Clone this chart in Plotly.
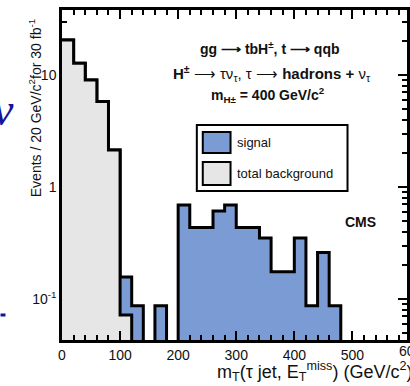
import plotly.graph_objects as go

# Histogram binning: 20 GeV/c^2 bins from 0 to 600
bin_width = 20
n_bins = 30
bin_edges = [i * bin_width for i in range(n_bins + 1)]

# Expected events per bin for 30 fb^-1
background = [20.5, 12.7, 9.0, 5.8, 2.14, 0.072] + [0.0] * 24
signal = [0.0, 0.0, 0.0, 0.0, 0.0, 0.085, 0.087, 0.0, 0.087, 0.0,
          0.69, 0.435, 0.435, 0.61, 0.69, 0.435, 0.435, 0.35, 0.175, 0.175,
          0.35, 0.087, 0.26, 0.087, 0.0, 0.0, 0.0, 0.0, 0.0, 0.0]

x_ticks = [0, 100, 200, 300, 400, 500]
y_tickvals = [0.1, 1, 10]
y_ticktext = ["10<sup>-1</sup>", "1", "10"]

FLOOR = 1e-3  # stand-in for empty bins on the log axis (below the visible range)
FONT = "Liberation Sans, Arial, Helvetica, sans-serif"
SIG_COLOR = "#7b9bd4"
BKG_COLOR = "#e6e6e6"

total = [b + s for b, s in zip(background, signal)]


def step_outline(edges, vals):
    xs, ys = [], []
    for i, v in enumerate(vals):
        v = v if v > 0 else FLOOR
        xs += [edges[i], edges[i + 1]]
        ys += [v, v]
    xs.append(edges[-1])
    ys.append(FLOOR)
    return xs, ys


def step_polygon(edges, vals):
    xs, ys = step_outline(edges, vals)
    return [edges[0]] + xs, [FLOOR] + ys


fig = go.Figure()

# stacked total (signal on top of background), drawn first in blue
px, py = step_polygon(bin_edges, total)
fig.add_trace(go.Scatter(x=px, y=py, fill="toself", fillcolor=SIG_COLOR,
                         mode="lines", line=dict(width=0), showlegend=False,
                         hoverinfo="skip"))
ox, oy = step_outline(bin_edges, total)
fig.add_trace(go.Scatter(x=ox, y=oy, mode="lines",
                         line=dict(color="black", width=3), showlegend=False))

# background on top in light grey
px, py = step_polygon(bin_edges, background)
fig.add_trace(go.Scatter(x=px, y=py, fill="toself", fillcolor=BKG_COLOR,
                         mode="lines", line=dict(width=0), showlegend=False,
                         hoverinfo="skip"))
ox, oy = step_outline(bin_edges, background)
fig.add_trace(go.Scatter(x=ox, y=oy, mode="lines",
                         line=dict(color="black", width=3), showlegend=False))

# minor ticks on the log axis: 2..9 per decade
y_minor = [m * 10 ** d for d in (-2, -1, 0, 1) for m in range(2, 10)]
y_minor = [v for v in y_minor if 0.04 < v < 40]

PL, PR, PT, PB = 62, 410, 10, 340  # plot area in pixels


def xp(px_):
    return (px_ - PL) / (PR - PL)


def yp(py_):
    return (PB - py_) / (PB - PT)


fig.update_layout(
    width=410, height=386,
    margin=dict(l=PL, r=0, t=PT, b=386 - PB),
    paper_bgcolor="white", plot_bgcolor="white",
    font=dict(family=FONT, color="#111"),
    xaxis=dict(range=[0, 594], tickmode="array", tickvals=x_ticks,
               ticks="inside", ticklen=9, tickwidth=1.5, tickcolor="black",
               minor=dict(dtick=20, tick0=0, ticks="inside", ticklen=5,
                          tickwidth=1.5, tickcolor="black"),
               showline=True, linewidth=2.5, linecolor="black", mirror="ticks",
               showgrid=False, zeroline=False, tickfont=dict(size=14),
               layer="above traces"),
    yaxis=dict(type="log", range=[-1.366, 1.58], tickmode="array",
               tickvals=y_tickvals, ticktext=y_ticktext,
               ticks="inside", ticklen=9, tickwidth=1.5, tickcolor="black",
               minor=dict(tickmode="array", tickvals=y_minor, ticks="inside",
                          ticklen=5, tickwidth=1.5, tickcolor="black"),
               showline=True, linewidth=2.5, linecolor="black", mirror="ticks",
               showgrid=False, zeroline=False, tickfont=dict(size=14),
               layer="below traces"),
)

ann = []


def text(x, y, s, size, xanchor="center", yanchor="middle", color="#111",
         angle=0, family=FONT):
    ann.append(dict(x=x, y=y, xref="paper", yref="paper", text=s,
                    showarrow=False, xanchor=xanchor, yanchor=yanchor,
                    textangle=angle,
                    font=dict(size=size, color=color, family=family)))


# process description
text(xp(272), yp(48), "<b>gg ⟶ tbH<sup>±</sup>, t ⟶ qqb</b>", 14)
text(xp(274), yp(73),
     "<b>H<sup>±</sup></b> ⟶ τν<sub>τ</sub>, τ ⟶ <b>hadrons +</b> ν<sub>τ</sub>", 15)
text(xp(270), yp(95), "<b>m<sub>H±</sub> = 400 GeV/c<sup>2</sup></b>", 14)
text(xp(363), yp(222), "<b>CMS</b>", 14)

# legend
text(xp(236), yp(142), "signal", 13, xanchor="left")
text(xp(236), yp(173), "total background", 13, xanchor="left")

# axis titles
text(xp(35), yp(108), "Events / 20 GeV/c<sup>2</sup>for 30 fb<sup>-1</sup>",
     14, angle=-90)
text(xp(216), yp(371),
     "m<sub>T</sub>(τ jet, E<sub>T</sub><sup>miss</sup>) (GeV/c<sup>2</sup>)",
     18, xanchor="left")
# last x tick label, past the right edge of the window
text(xp(414), yp(351), "600", 14)

# slide fragments at the left edge
text(xp(16), yp(110), "<i>ν</i>", 46, xanchor="right", color="#15139a",
     family="Liberation Serif, serif")

fig.update_layout(annotations=ann)

shapes = [
    dict(type="rect", xref="paper", yref="paper", x0=xp(198), x1=xp(350),
         y0=yp(191), y1=yp(125), line=dict(color="black", width=2),
         fillcolor="white", layer="above"),
    dict(type="rect", xref="paper", yref="paper", x0=xp(204), x1=xp(232),
         y0=yp(153), y1=yp(132), line=dict(color="black", width=2),
         fillcolor=SIG_COLOR, layer="above"),
    dict(type="rect", xref="paper", yref="paper", x0=xp(204), x1=xp(232),
         y0=yp(185), y1=yp(162), line=dict(color="black", width=2),
         fillcolor=BKG_COLOR, layer="above"),
    dict(type="line", xref="paper", yref="paper", x0=xp(0), x1=xp(5),
         y0=yp(315), y1=yp(315), line=dict(color="#15139a", width=3)),
]
fig.update_layout(shapes=shapes)

fig.write_html("out.html")
